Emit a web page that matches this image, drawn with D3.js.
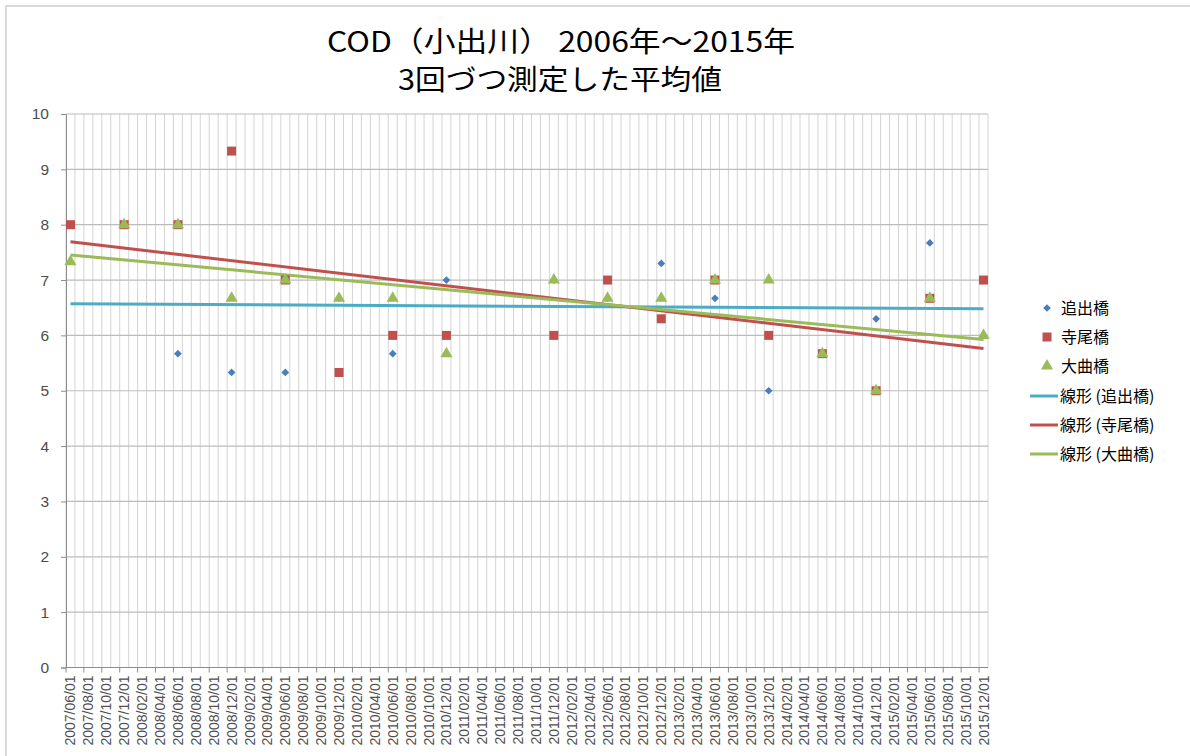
<!DOCTYPE html>
<html>
<head>
<meta charset="utf-8">
<script src="https://cdn.jsdelivr.net/npm/d3@7"></script>
<style>
  body { margin: 0; background: #fff; }
  svg { display: block; }
</style>
</head>
<body>
<script>
// Data
const dates = ["2007/06/01", "2007/12/01", "2008/06/01", "2008/12/01", "2009/06/01",
  "2009/12/01", "2010/06/01", "2010/12/01", "2011/12/01", "2012/06/01", "2012/12/01",
  "2013/06/01", "2013/12/01", "2014/06/01", "2014/12/01", "2015/06/01", "2015/12/01"];
const oide    = [8, 8, 5.67, 5.33, 5.33, 6.67, 5.67, 7, 7, 6.67, 7.3, 6.67, 5, 5.67, 6.3, 7.67, 7];
const terao   = [8, 8, 8, 9.33, 7, 5.33, 6, 6, 6, 7, 6.3, 7, 6, 5.67, 5, 6.67, 7];
const omagari = [7.33, 8, 8, 6.67, 7, 6.67, 6.67, 5.67, 7, 6.67, 6.67, 7, 7, 5.67, 5, 6.67, 6];
const seriesNames = ["追出橋", "寺尾橋", "大曲橋"];
const yTicks = [0, 1, 2, 3, 4, 5, 6, 7, 8, 9, 10];
const axisStart = "2007/06/01", axisEnd = "2015/12/01";

const width = 1190, height = 756;
const plot = { left: 66, right: 988, top: 114, bottom: 667.5 };

const parse = d3.timeParse("%Y/%m/%d");
const fmt = d3.timeFormat("%Y/%m/%d");
const months = d3.timeMonth.range(parse(axisStart), d3.timeMonth.offset(parse(axisEnd), 1));
const monthKeys = months.map(fmt);

const x = d3.scaleBand().domain(monthKeys).range([plot.left, plot.right]).padding(0);
const y = d3.scaleLinear().domain([0, 10]).range([plot.bottom, plot.top]);

const svg = d3.select("body").append("svg")
  .attr("width", width).attr("height", height);

// chart frame
svg.append("path")
  .attr("d", `M6,${height} V6 H${width}`)
  .attr("fill", "none").attr("stroke", "#d9d9d9").attr("stroke-width", 2);

// title
const title = svg.append("g").attr("font-family", "'Noto Sans CJK JP', sans-serif")
  .attr("fill", "#000").attr("text-anchor", "middle");
title.append("text").attr("x", 561).attr("y", 52).attr("font-size", 28)
  .attr("textLength", 468).attr("lengthAdjust", "spacingAndGlyphs")
  .text("COD（小出川） 2006年～2015年");
title.append("text").attr("x", 560).attr("y", 90).attr("font-size", 28)
  .attr("textLength", 324).attr("lengthAdjust", "spacingAndGlyphs")
  .text("3回づつ測定した平均値");

// grid
const grid = svg.append("g");
grid.selectAll(".vgrid").data(d3.range(monthKeys.length + 1)).join("line")
  .attr("x1", i => plot.left + i * x.bandwidth())
  .attr("x2", i => plot.left + i * x.bandwidth())
  .attr("y1", plot.top).attr("y2", plot.bottom)
  .attr("stroke", "#d4d4d4").attr("stroke-width", 1);
grid.selectAll(".hgrid").data(yTicks).join("line")
  .attr("x1", plot.left).attr("x2", plot.right)
  .attr("y1", d => y(d)).attr("y2", d => y(d))
  .attr("stroke", "#bcbcbc").attr("stroke-width", 1.2);

// y axis
const yAxis = svg.append("g").attr("transform", `translate(${plot.left},0)`)
  .call(d3.axisLeft(y).tickValues(yTicks).tickSize(5).tickPadding(12));
yAxis.select(".domain").attr("stroke", "#8c8c8c");
yAxis.selectAll(".tick line").attr("stroke", "#8c8c8c");
yAxis.selectAll(".tick text").attr("font-family", "'Liberation Sans', Arial, sans-serif")
  .attr("font-size", 15.5).attr("fill", "#4d4d4d");

// x axis
const labelKeys = monthKeys.filter((d, i) => i % 2 === 0);
const xAxis = svg.append("g").attr("transform", `translate(0,${plot.bottom})`);
xAxis.append("line").attr("x1", plot.left).attr("x2", plot.right)
  .attr("stroke", "#8c8c8c");
xAxis.selectAll(".xtick").data(labelKeys).join("line")
  .attr("x1", d => x(d)).attr("x2", d => x(d))
  .attr("y1", 0).attr("y2", 5).attr("stroke", "#8c8c8c");
xAxis.selectAll(".xlabel").data(labelKeys).join("text")
  .attr("transform", d => `translate(${x(d) + x.bandwidth() / 2 + 5},8) rotate(-90)`)
  .attr("text-anchor", "end")
  .attr("font-family", "'Liberation Sans', Arial, sans-serif")
  .attr("font-size", 14).attr("fill", "#505050")
  .text(d => d);

// series
const colors = ["#4a7ebb", "#c0504d", "#9bbb59"];
const trendColors = ["#4bacc6", "#c0504d", "#9bbb59"];
const symbols = [d3.symbolSquare, d3.symbolSquare, d3.symbolTriangle];
const symbolSizes = [30, 81, 64];
const symbolRotate = [45, 0, 0];
const values = [oide, terao, omagari];

const cx = d => x(d) + x.bandwidth() / 2;
const dayNum = d => d3.timeDay.count(parse(axisStart), parse(d));

// least-squares trend lines
const trendG = svg.append("g");
values.forEach((vals, s) => {
  const xs = dates.map(dayNum);
  const mx = d3.mean(xs), my = d3.mean(vals);
  const slope = d3.sum(xs, (v, i) => (v - mx) * (vals[i] - my)) / d3.sum(xs, v => (v - mx) ** 2);
  const b = my - slope * mx;
  const ends = [dates[0], dates[dates.length - 1]];
  trendG.append("line")
    .attr("x1", cx(ends[0])).attr("y1", y(b + slope * dayNum(ends[0])))
    .attr("x2", cx(ends[1])).attr("y2", y(b + slope * dayNum(ends[1])))
    .attr("stroke", trendColors[s]).attr("stroke-width", 3);
});

const markG = svg.append("g");
values.forEach((vals, s) => {
  markG.selectAll(`.m${s}`).data(dates).join("path")
    .attr("transform", (d, i) => `translate(${cx(d)},${y(vals[i])}) rotate(${symbolRotate[s]})`)
    .attr("d", d3.symbol(symbols[s], symbolSizes[s]))
    .attr("fill", colors[s]);
});

// legend
const legend = svg.append("g").attr("font-family", "'Noto Sans CJK JP', sans-serif")
  .attr("font-size", 16).attr("fill", "#000");
const rowY = [308, 337, 366, 396, 425, 454];
seriesNames.forEach((name, s) => {
  legend.append("path")
    .attr("transform", `translate(1047,${rowY[s]}) rotate(${symbolRotate[s]})`)
    .attr("d", d3.symbol(symbols[s], symbolSizes[s]))
    .attr("fill", colors[s]);
  legend.append("text").attr("x", 1061).attr("y", rowY[s]).attr("dy", "0.35em").text(name);
});
seriesNames.forEach((name, s) => {
  const yy = rowY[s + 3];
  legend.append("line").attr("x1", 1030).attr("x2", 1058).attr("y1", yy).attr("y2", yy)
    .attr("stroke", trendColors[s]).attr("stroke-width", 3);
  legend.append("text").attr("x", 1060).attr("y", yy).attr("dy", "0.35em")
    .text(`線形 (${name})`);
});
</script>
</body>
</html>
